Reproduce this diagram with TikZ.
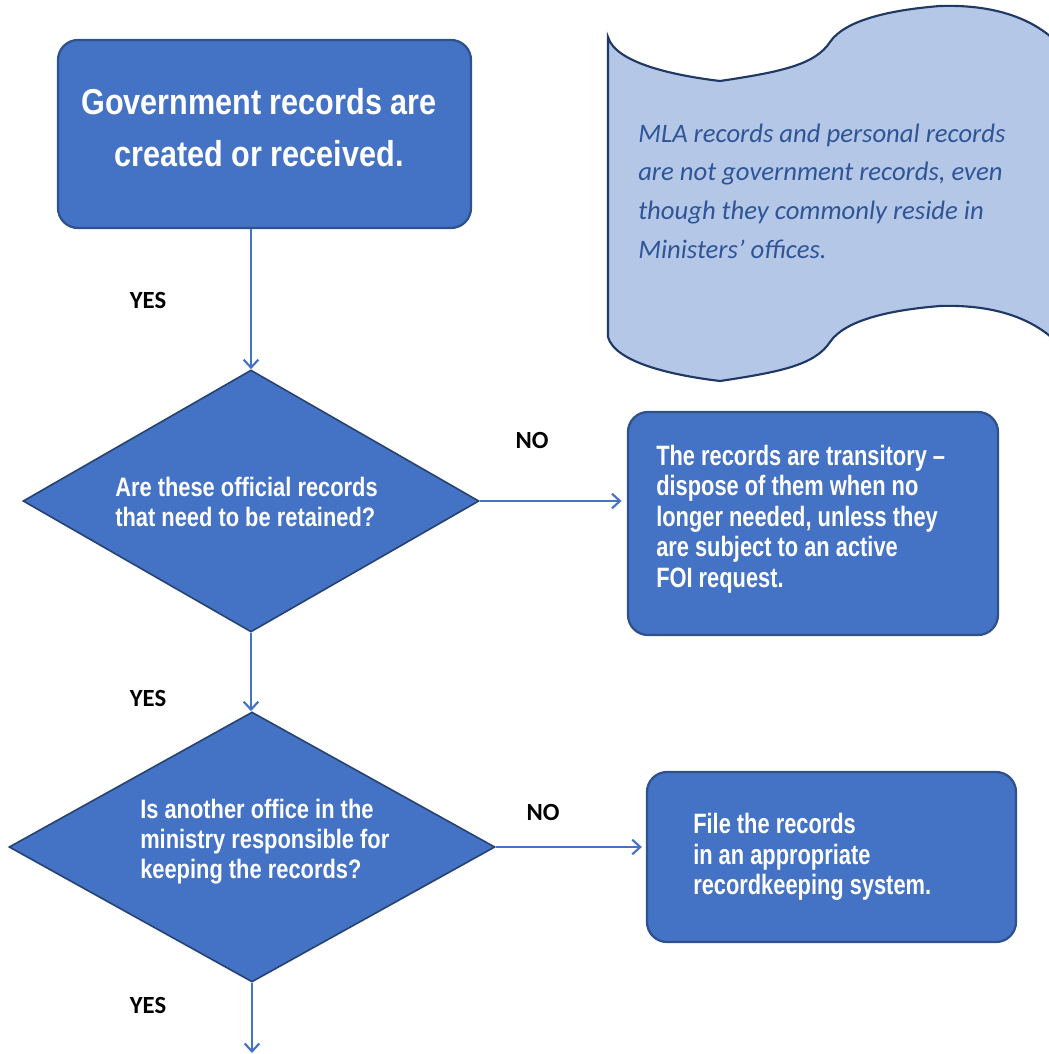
\documentclass[tikz,border=0pt]{standalone}
\usepackage{fontspec}
\setmainfont{Liberation Sans}
\newfontfamily\narrowA[FakeStretch=0.78]{Liberation Sans}
\newfontfamily\narrowB[FakeStretch=0.82]{Liberation Sans}
\newfontfamily\narrowC[FakeStretch=0.85]{Liberation Sans}
\newfontfamily\calfont{Carlito}
\usetikzlibrary{shapes.geometric,arrows.meta}
\definecolor{fillblue}{HTML}{4472C4}
\definecolor{edgeblue}{HTML}{2F528F}
\definecolor{lightblue}{HTML}{B4C7E7}
\definecolor{navy}{HTML}{203864}
\definecolor{textblue}{HTML}{2F5597}
\tikzset{
  procbox/.style={draw=edgeblue, fill=fillblue, line width=1.7pt, rounded corners=15pt, inner sep=0pt},
  decision/.style={diamond, draw=edgeblue!80!black, fill=fillblue, line width=1.2pt, inner sep=0pt, aspect=1},
  boxtext/.style={text=white, font=\narrowA\bfseries\fontsize{21}{22.9}\selectfont, align=left, inner sep=0pt},
  dectext/.style={text=white, font=\narrowB\bfseries\fontsize{20}{22.5}\selectfont, align=left, inner sep=0pt},
  flowarrow/.style={draw=fillblue, line width=2pt, -{Straight Barb[length=6pt,width=11pt,line width=1.6pt]}},
  answer/.style={font=\calfont\bfseries\fontsize{18.5}{20}\selectfont, inner sep=0pt}
}
\begin{document}
\begin{tikzpicture}[x=0.75pt,y=-0.75pt]
\useasboundingbox (0,0) rectangle (1049,1054);
\clip (0,0) rectangle (1049,1054);
% wave banner
\draw[fill=lightblue, draw=navy, line width=1.6pt]
  (608,37) .. controls (615,62) and (670,75) .. (720,81)
  .. controls (780,72) and (815,65) .. (830,42)
  .. controls (845,20) and (890,10) .. (940,6)
  .. controls (1000,4) and (1040,22) .. (1062,48)
  -- (1062,348)
  .. controls (1040,322) and (1000,304) .. (940,306)
  .. controls (890,310) and (845,320) .. (830,342)
  .. controls (815,365) and (780,372) .. (720,381)
  .. controls (670,375) and (615,362) .. (608,337)
  -- cycle;
\node[anchor=west, align=left, inner sep=0pt, text=textblue, font=\calfont\itshape\fontsize{20}{29}\selectfont] (note) at (638,191)
  {MLA records and personal records\\are not government records, even\\though they commonly reside in\\Ministers’ offices.};
% nodes
\node[procbox, minimum width=309.75pt, minimum height=141pt] (b1) at (264.5,134) {};
\node[text=white, align=center, inner sep=0pt, font=\narrowC\bfseries\fontsize{27}{39}\selectfont] (b1t) at (259,128) {Government records are\\created or received.};
\node[decision, minimum width=342pt, minimum height=196.5pt] (d1) at (251,501) {};
\node[dectext, anchor=west] (d1t) at (115,502) {Are these official records\\that need to be retained?};
\node[procbox, minimum width=277.5pt, minimum height=167.25pt] (b2) at (813,523.5) {};
\node[boxtext, anchor=west] (b2t) at (656,519) {The records are transitory –\\dispose of them when no\\longer needed, unless they\\are subject to an active\\FOI request.};
\node[decision, minimum width=364.5pt, minimum height=202.5pt] (d2) at (252,847) {};
\node[dectext, anchor=west] (d2t) at (140,842) {Is another office in the\\ministry responsible for\\keeping the records?};
\node[procbox, minimum width=276.75pt, minimum height=127.5pt] (b3) at (831.5,857) {};
\node[boxtext, anchor=west] (b3t) at (693,857) {File the records\\in an appropriate\\recordkeeping system.};
\coordinate (end) at (252,1053);
% connectors
\draw[flowarrow] (d1.north |- b1.south) -- (d1.north);
\draw[flowarrow, shorten >=4pt] (d1.east) -- (d1.east -| b2.west);
\draw[flowarrow] (d1.south) -- (d1.south |- d2.north);
\draw[flowarrow, shorten >=3pt] (d2.east) -- (d2.east -| b3.west);
\draw[flowarrow] (d2.south) -- (end);
% labels
\node[answer] (y1) at (148,300) {YES};
\node[answer] (n1) at (532,440) {NO};
\node[answer] (y2) at (148,698) {YES};
\node[answer] (n2) at (543,812) {NO};
\node[answer] (y3) at (148,1005) {YES};
\end{tikzpicture}
\end{document}
